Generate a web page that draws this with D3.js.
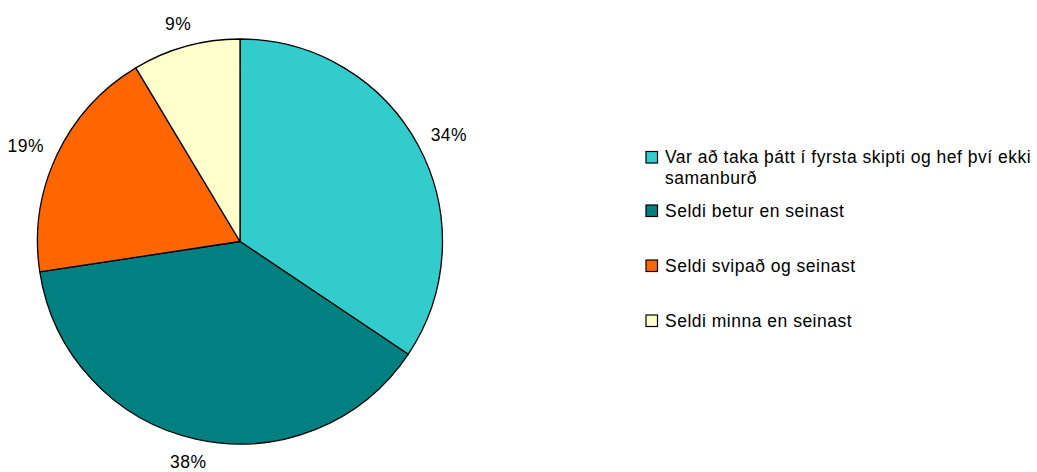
<!DOCTYPE html>
<html>
<head>
<meta charset="utf-8">
<script src="https://cdn.jsdelivr.net/npm/d3@7"></script>
<style>
  body { margin: 0; background: #fff; }
  text { font-family: "Liberation Sans", Arial, sans-serif; fill: #000; }
</style>
</head>
<body>
<div id="chart"></div>
<script>
// categorie e valori (percentuali)
const categories = [
    'Var að taka þátt í fyrsta skipti og hef því ekki samanburð',
    'Seldi betur en seinast',
    'Seldi svipað og seinast',
    'Seldi minna en seinast'
];
// righe della legenda (la prima va a capo)
const legendLines = [
    ['Var að taka þátt í fyrsta skipti og hef því ekki', 'samanburð'],
    ['Seldi betur en seinast'],
    ['Seldi svipað og seinast'],
    ['Seldi minna en seinast']
];
const values = [34.4, 38.2, 18.8, 8.6];
const colors = ['#33CCCC', '#008080', '#FF6600', '#FFFFCC'];

const width = 1037, height = 472;
const cx = 240, cy = 241.5, radius = 202.5;
const fontSize = 17.5, spacing = 0.5;

const svg = d3.select('#chart')
    .append('svg')
    .attr('width', width)
    .attr('height', height);

// torta dall'alto in senso orario, nell'ordine dei dati
const pie = d3.pie().sort(null).value(d => d);
const arcs = pie(values);

const arc = d3.arc().innerRadius(0).outerRadius(radius);
const gap = 16;

const g = svg.append('g').attr('transform', `translate(${cx},${cy})`);

g.selectAll('path')
    .data(arcs)
    .join('path')
    .attr('d', arc)
    .attr('fill', (d, i) => colors[i])
    .attr('stroke', '#000')
    .attr('stroke-width', 1.3)
    .attr('stroke-linejoin', 'round');

// etichette percentuali fuori dalla torta: il riquadro tocca il punto a raggio+gap
const labels = g.selectAll('text.pct')
    .data(arcs)
    .join('text')
    .attr('class', 'pct')
    .attr('text-anchor', 'middle')
    .attr('dy', '0.35em')
    .style('font-size', fontSize + 'px')
    .style('letter-spacing', spacing + 'px')
    .text(d => Math.round(d.data) + '%');

labels.attr('transform', function(d) {
    const a = (d.startAngle + d.endAngle) / 2;
    const w = this.getComputedTextLength();
    const h = fontSize * 0.8;
    const r = radius + gap;
    const x = Math.sin(a) * r + Math.sin(a) * w / 2;
    const y = -Math.cos(a) * r - Math.cos(a) * h / 2;
    return `translate(${x},${y})`;
});

// legenda
const legendX = 646;
const rowY = [157, 210.5, 265.5, 320.5];
const legend = svg.append('g');

legendLines.forEach((lines, i) => {
    legend.append('rect')
        .attr('x', legendX)
        .attr('y', rowY[i] - 5.5)
        .attr('width', 11.5)
        .attr('height', 11.5)
        .attr('fill', colors[i])
        .attr('stroke', '#000')
        .attr('stroke-width', 1.2);
    const t = legend.append('text')
        .attr('y', rowY[i])
        .style('font-size', fontSize + 'px')
        .style('letter-spacing', spacing + 'px');
    lines.forEach((line, j) => {
        t.append('tspan')
            .attr('x', legendX + 19)
            .attr('dy', j === 0 ? '0.35em' : '21px')
            .text(line);
    });
});
</script>
</body>
</html>
